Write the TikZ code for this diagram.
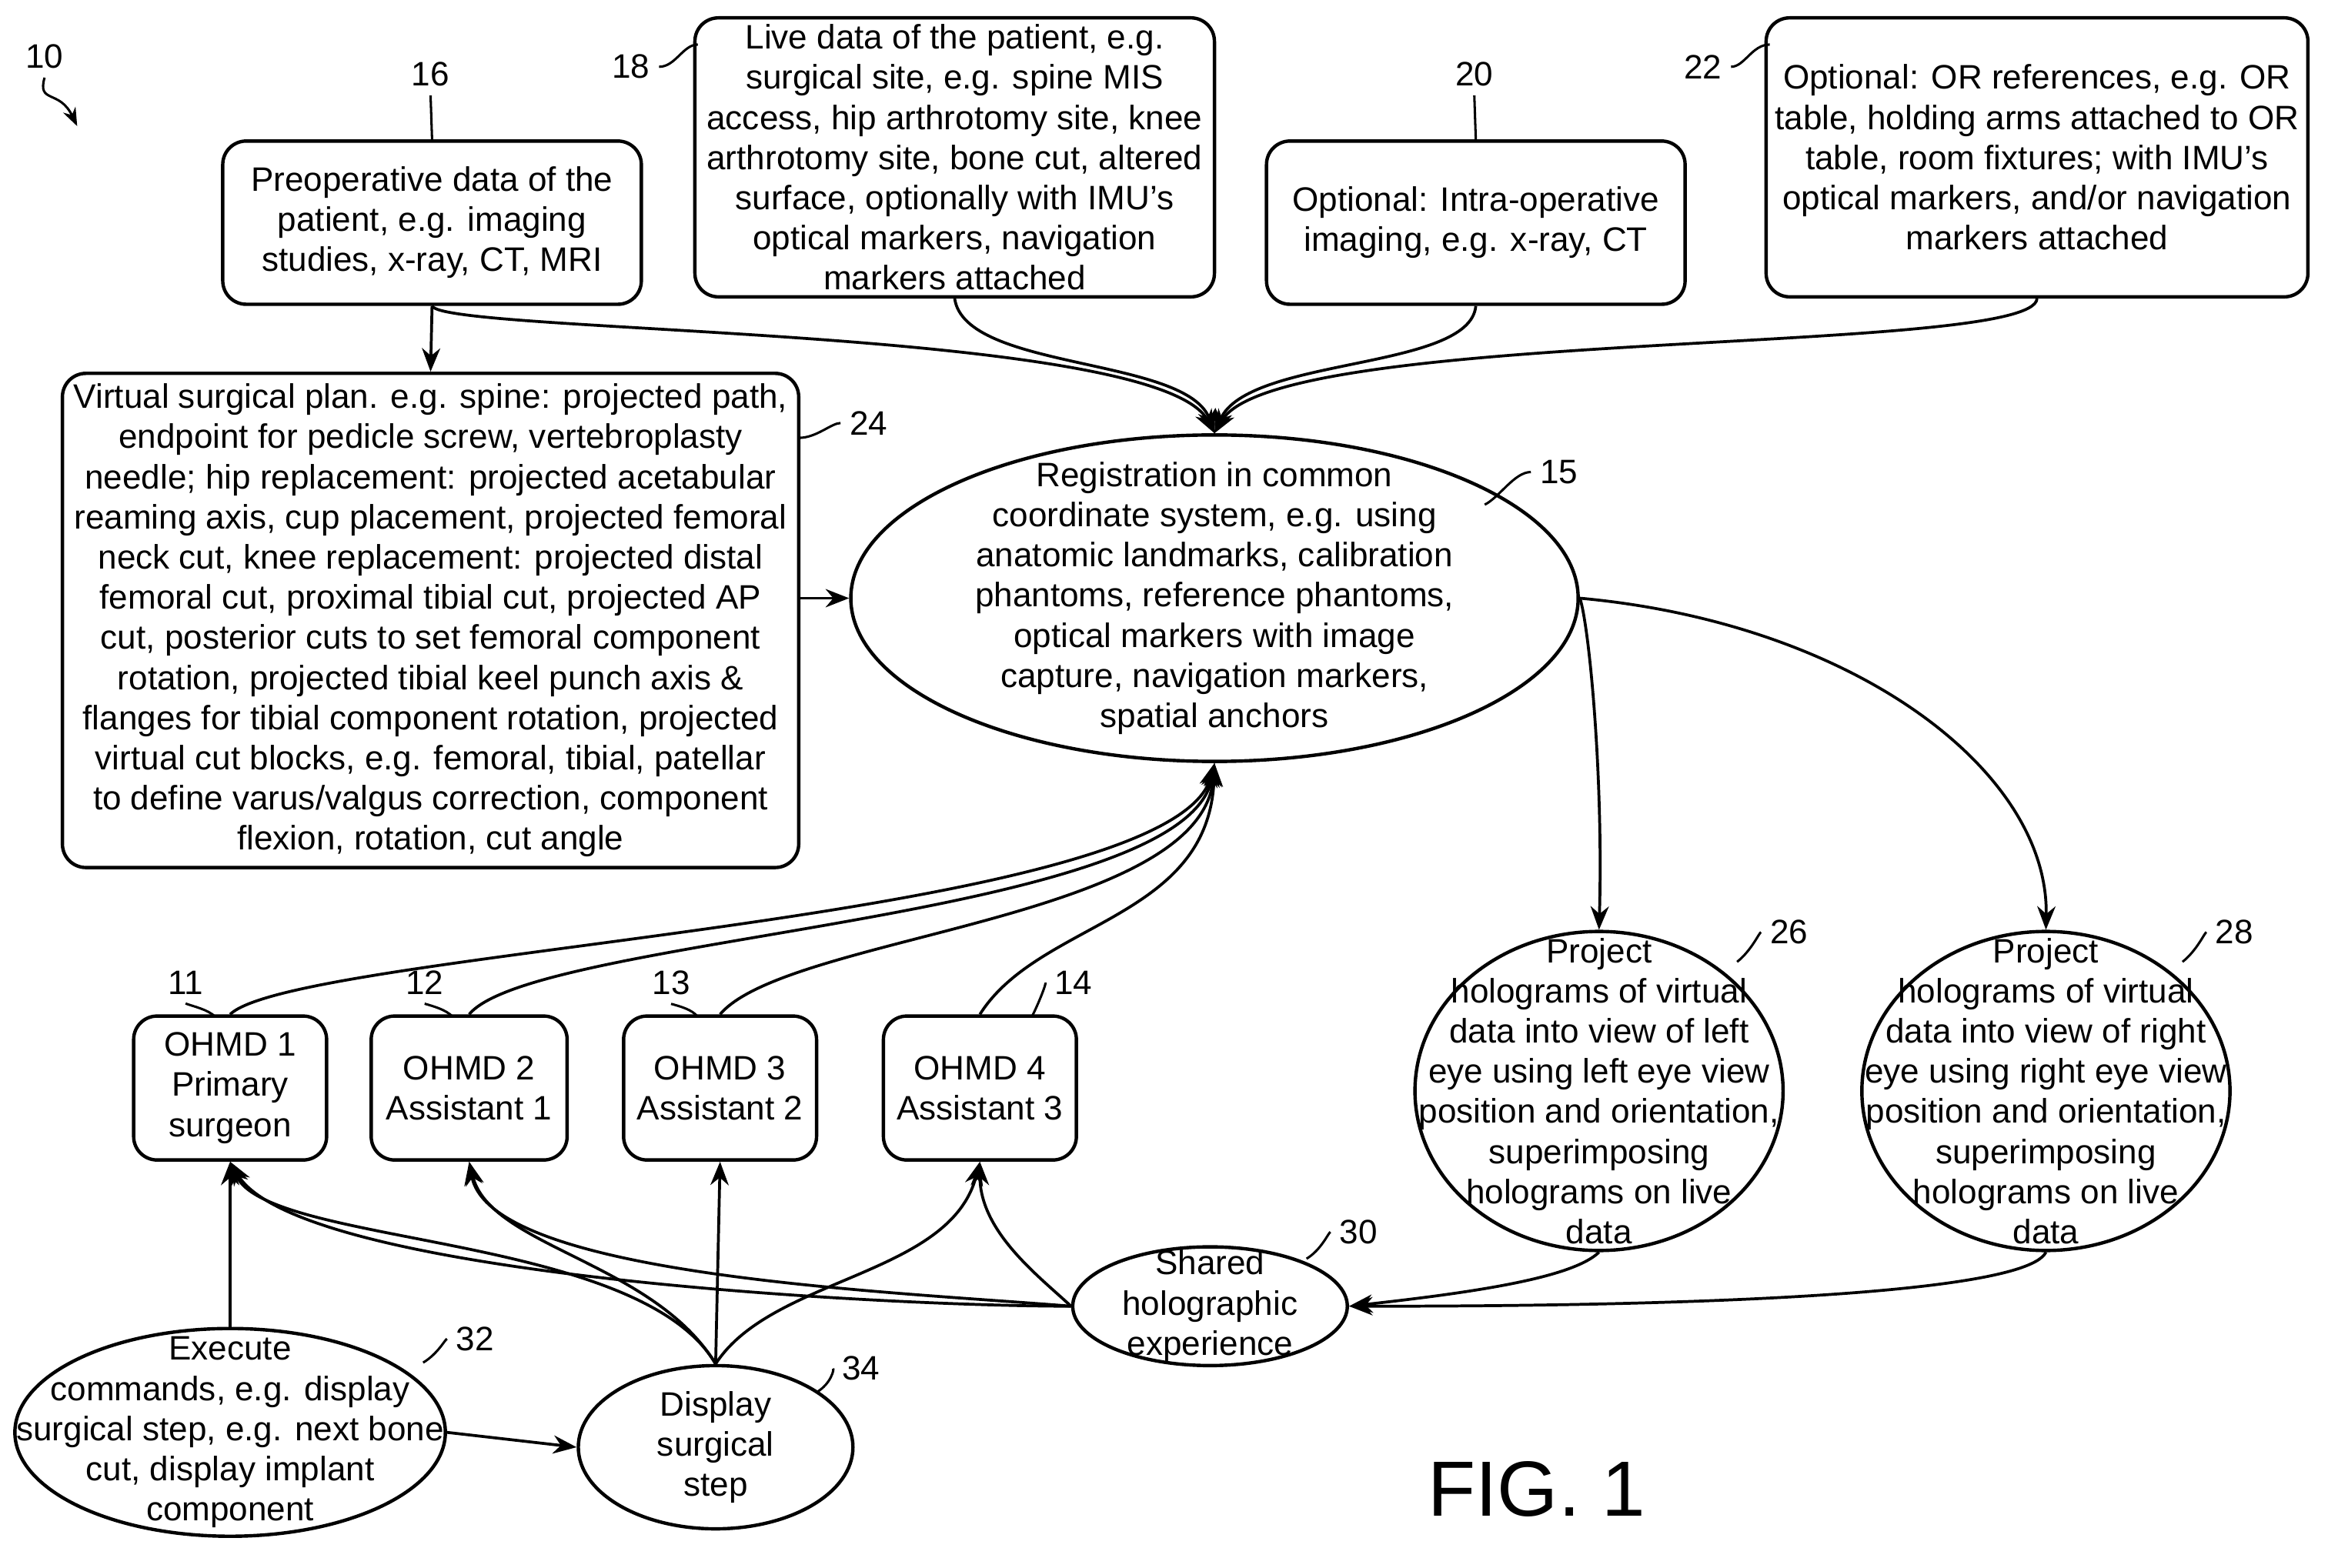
\documentclass[tikz,border=0pt]{standalone}
\usepackage{fontspec}
\setmainfont{Liberation Sans}
\usetikzlibrary{arrows.meta,shapes.geometric}
\tikzset{
  box/.style={draw,rounded corners=9pt,line width=1.3pt,align=center,inner sep=1pt},
  oval/.style={draw,ellipse,line width=1.3pt,inner sep=0pt},
  txt/.style={label={[align=center]center:#1}},
  conn/.style={line width=1.1pt,-{Stealth[length=9pt,width=7pt]}},
  lbl/.style={font=\fontsize{13}{15}\selectfont},
  lead/.style={line width=0.9pt},
}
\begin{document}
\begin{tikzpicture}[x=0.02cm,y=-0.02cm,font=\fontsize{13}{15.4}\selectfont]
\useasboundingbox (0,0) rectangle (1568,1056);
%% top row
\node (n16) at (291,150) [box,minimum width=5.64cm,minimum height=2.2cm] {Preoperative data of the\\patient, e.g. imaging\\studies, x-ray, CT, MRI};
\node (n18) at (643,106) [box,minimum width=7cm,minimum height=3.76cm] {Live data of the patient, e.g.\\surgical site, e.g. spine MIS\\access, hip arthrotomy site, knee\\arthrotomy site, bone cut, altered\\surface, optionally with IMU's\\optical markers, navigation\\markers attached};
\node (n20) at (994,150) [box,minimum width=5.64cm,minimum height=2.2cm] {Optional: Intra-operative\\imaging, e.g. x-ray, CT};
\node (n22) at (1372,106) [box,minimum width=7.3cm,minimum height=3.76cm] {Optional: OR references, e.g. OR\\table, holding arms attached to OR\\table, room fixtures; with IMU's\\optical markers, and/or navigation\\markers attached};
\node (n24) at (290,418) [box,minimum width=9.92cm,minimum height=6.66cm] {Virtual surgical plan. e.g. spine: projected path,\\endpoint for pedicle screw, vertebroplasty\\needle; hip replacement: projected acetabular\\reaming axis, cup placement, projected femoral\\neck cut, knee replacement: projected distal\\femoral cut, proximal tibial cut, projected AP\\cut, posterior cuts to set femoral component\\rotation, projected tibial keel punch axis \&\\flanges for tibial component rotation, projected\\virtual cut blocks, e.g. femoral, tibial, patellar\\to define varus/valgus correction, component\\flexion, rotation, cut angle};
\node (n15) at (818,403) [oval,minimum width=9.8cm,minimum height=4.4cm,txt={Registration in common\\coordinate system, e.g. using\\anatomic landmarks, calibration\\phantoms, reference phantoms,\\optical markers with image\\capture, navigation markers,\\spatial anchors}] {};
%% headsets
\node (n11) at (155,733) [box,minimum width=2.6cm,minimum height=1.94cm] {OHMD 1\\Primary\\surgeon};
\node (n12) at (316,733) [box,minimum width=2.64cm,minimum height=1.94cm] {OHMD 2\\Assistant 1};
\node (n13) at (485,733) [box,minimum width=2.6cm,minimum height=1.94cm] {OHMD 3\\Assistant 2};
\node (n14) at (660,733) [box,minimum width=2.6cm,minimum height=1.94cm] {OHMD 4\\Assistant 3};
\node (n26) at (1077,735) [oval,minimum width=4.96cm,minimum height=4.3cm,txt={Project\\holograms of virtual\\data into view of left\\eye using left eye view\\position and orientation,\\superimposing\\holograms on live\\data}] {};
\node (n28) at (1378,735) [oval,minimum width=4.96cm,minimum height=4.3cm,txt={Project\\holograms of virtual\\data into view of right\\eye using right eye view\\position and orientation,\\superimposing\\holograms on live\\data}] {};
\node (n30) at (815,880) [oval,minimum width=3.7cm,minimum height=1.6cm,txt={Shared\\holographic\\experience}] {};
\node (n32) at (155,965) [oval,minimum width=5.8cm,minimum height=2.8cm,txt={Execute\\commands, e.g. display\\surgical step, e.g. next bone\\cut, display implant\\component}] {};
\node (n34) at (482,975) [oval,minimum width=3.7cm,minimum height=2.2cm,txt={Display\\surgical\\step}] {};
\node (fig) at (1035,1003) [font=\fontsize{30}{32}\selectfont] {FIG. 1};
%% reference numerals
\node (l10) at (30,38) [lbl] {10};
\node (l16) at (290,50) [lbl] {16};
\node (l18) at (425,45) [lbl] {18};
\node (l20) at (993,50) [lbl] {20};
\node (l22) at (1147,45) [lbl] {22};
\node (l24) at (585,285) [lbl] {24};
\node (l15) at (1050,318) [lbl] {15};
\node (l11) at (125,662) [lbl] {11};
\node (l12) at (286,662) [lbl] {12};
\node (l13) at (452,662) [lbl] {13};
\node (l14) at (723,662) [lbl] {14};
\node (l26) at (1205,628) [lbl] {26};
\node (l28) at (1505,628) [lbl] {28};
\node (l30) at (915,830) [lbl] {30};
\node (l32) at (320,902) [lbl] {32};
\node (l34) at (580,922) [lbl] {34};
\coordinate (a10) at (52,85);
\draw [lead,-{Stealth[length=7pt]}] (l10.south) ..controls (25,70) and (40,60) .. (a10);
\draw [lead] (l16.south) -- (n16.north);
\draw [lead] (l18.east) ..controls (455,45) and (460,30) .. (470,30);
\draw [lead] (l20.south) -- (n20.north);
\draw [lead] (l22.east) ..controls (1175,45) and (1180,30) .. (1192,30);
\draw [lead] (l24.west) ..controls (560,285) and (550,295) .. (538,295);
\draw [lead] (l15.west) ..controls (1020,318) and (1010,335) .. (1000,340);
\draw [lead] (l11.south) ..controls (130,678) and (140,680) .. (145,685);
\draw [lead] (l12.south) ..controls (292,678) and (300,680) .. (305,685);
\draw [lead] (l13.south) ..controls (458,678) and (466,680) .. (470,685);
\draw [lead] (l14.west) ..controls (705,662) and (700,675) .. (695,685);
\draw [lead] (l26.west) ..controls (1185,628) and (1180,640) .. (1170,648);
\draw [lead] (l28.west) ..controls (1485,628) and (1480,640) .. (1470,648);
\draw [lead] (l30.west) ..controls (895,830) and (890,842) .. (880,848);
\draw [lead] (l32.west) ..controls (300,902) and (295,912) .. (285,918);
\draw [lead] (l34.west) ..controls (562,922) and (560,932) .. (550,938);
%% connectors into registration
\coordinate (top15) at (n15.north);
\draw [conn] (n16.south) -- (n24.north);
\draw [conn] (n16.south) ..controls (300,225) and (780,220) .. (top15);
\draw [conn] (n18.south) ..controls (650,250) and (800,240) .. (top15);
\draw [conn] (n20.south) ..controls (990,250) and (840,240) .. (top15);
\draw [conn] (n22.south) ..controls (1370,240) and (860,220) .. (top15);
\draw [conn] (n24.east |- n15.west) -- (n15.west);
\draw [conn] (n11.north) ..controls (200,640) and (790,620) .. (n15.south);
\draw [conn] (n12.north) ..controls (360,630) and (800,620) .. (n15.south);
\draw [conn] (n13.north) ..controls (530,630) and (810,620) .. (n15.south);
\draw [conn] (n14.north) ..controls (700,620) and (815,620) .. (n15.south);
\draw [conn] (n15.east) ..controls (1070,420) and (1080,520) .. (n26.north);
\draw [conn] (n15.east) ..controls (1250,420) and (1380,520) .. (n28.north);
%% shared experience
\draw [conn] (n26.south) ..controls (1060,860) and (1000,870) .. (n30.east);
\draw [conn] (n28.south) ..controls (1360,880) and (1000,880) .. (n30.east);
\draw [conn] (n30.west) ..controls (600,880) and (200,860) .. (n11.south);
\draw [conn] (n30.west) ..controls (600,870) and (330,860) .. (n12.south);
\draw [conn] (n30.west) ..controls (700,860) and (660,830) .. (n14.south);
\draw [conn] (n34.north) ..controls (430,830) and (180,840) .. (n11.south);
\draw [conn] (n34.north) ..controls (440,850) and (330,840) .. (n12.south);
\draw [conn] (n34.north) -- (n13.south);
\draw [conn] (n34.north) ..controls (520,860) and (640,860) .. (n14.south);
\draw [conn,{Stealth[length=9pt,width=7pt]}-] (n11.south) -- (n32.north);
\draw [conn] (n32.east) -- (n34.west);
\end{tikzpicture}
\end{document}
